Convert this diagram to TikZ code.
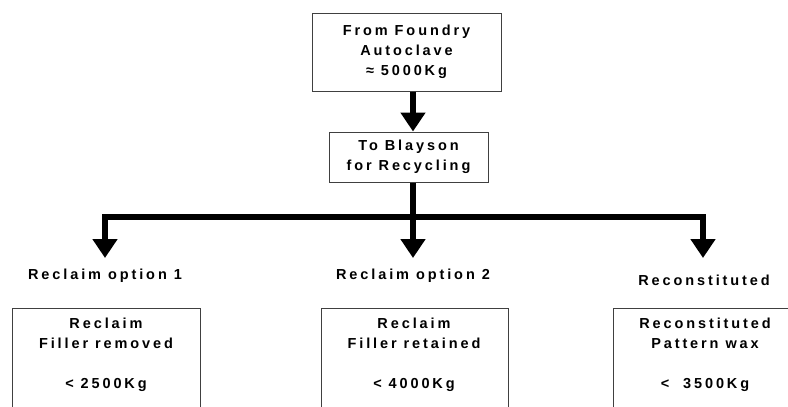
\documentclass[tikz,border=0pt]{standalone}
\usepackage{fontspec}
\setmainfont{Liberation Sans}[LetterSpace=20]
\usetikzlibrary{arrows.meta}
\begin{document}
\begin{tikzpicture}[x=1pt,y=-1pt,
  every node/.style={font=\bfseries\fontsize{14.5}{20}\selectfont, inner sep=0pt},
  box/.style={draw=black!75, line width=1pt, align=center},
  lbl/.style={align=center},
  arr/.style={line width=6pt, -{Triangle[length=19pt,width=24pt]}},
  bar/.style={line width=6pt}]
\useasboundingbox (0,0) rectangle (788,407);
\clip (0,0) rectangle (788,407);
\node[box, minimum width=189pt, minimum height=78pt] (a) at (406.5,52) {From Foundry\\Autoclave\\≈ 5000Kg};
\node[box, minimum width=159pt, minimum height=50pt] (b) at (408.5,157) {To Blayson\\for Recycling};
\coordinate (j) at (413,217);
\coordinate (t1) at (105,258);
\coordinate (t2) at (413,258);
\coordinate (t3) at (703,258);
\draw[arr] (a.south -| j) -- (b.north -| j);
\draw[arr] (b.south -| j) -- (t2);
\draw[arr] (j) -| (t1);
\draw[arr] (j) -| (t3);
\node[lbl, anchor=base] (l1) at (105,279) {Reclaim option 1};
\node[lbl, anchor=base] (l2) at (413,279) {Reclaim option 2};
\node[lbl, anchor=base] (l3) at (704,285) {Reconstituted};
\node[box, minimum width=188pt, minimum height=130pt, anchor=north west] (c1) at (12,308) {};
\node[box, minimum width=187pt, minimum height=130pt, anchor=north west] (c2) at (321,308) {};
\node[box, minimum width=175pt, minimum height=130pt, anchor=north west] (c3) at (612.5,308) {};
\node[lbl, anchor=base] (c1t) at (106,388) {Reclaim\\Filler removed\\ \\< 2500Kg};
\node[lbl, anchor=base] (c2t) at (414,388) {Reclaim\\Filler retained\\ \\< 4000Kg};
\node[lbl, anchor=base] (c3t) at (705,388) {Reconstituted\\Pattern wax\\ \\<\ \ 3500Kg};
\end{tikzpicture}
\end{document}
